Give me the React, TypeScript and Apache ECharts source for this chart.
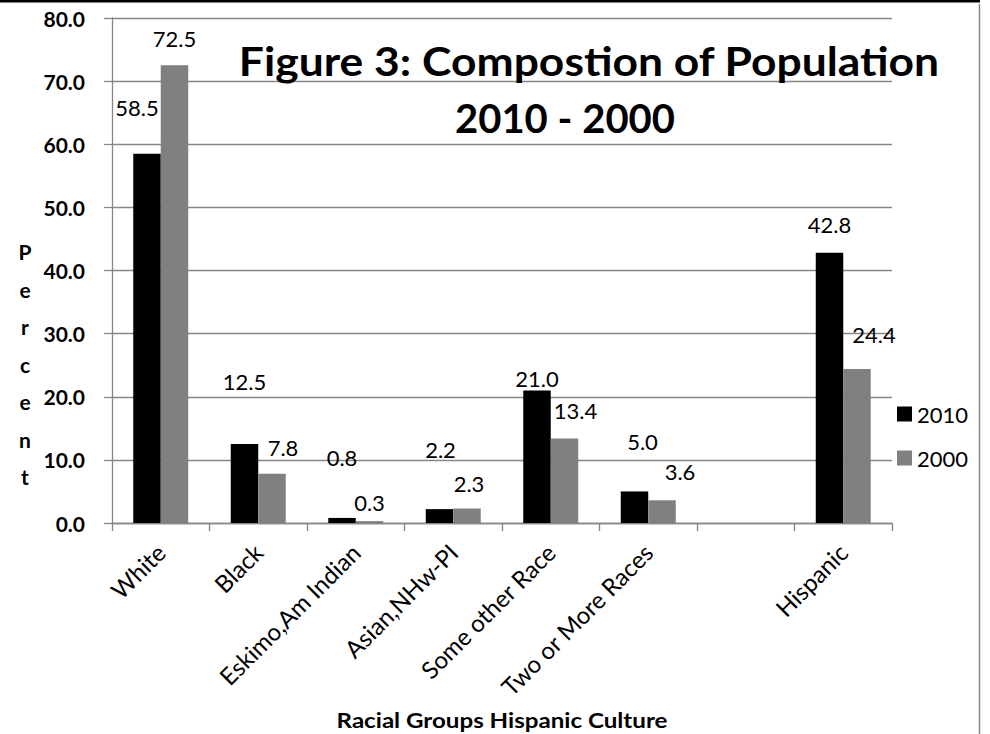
import React, { useEffect, useRef } from "react";
import * as echarts from "echarts";

const categories = [
  "White",
  "Black",
  "Eskimo,Am Indian",
  "Asian,NHw-PI",
  "Some other Race",
  "Two or More Races",
  "",
  "Hispanic",
];
const values2010: (number | null)[] = [58.5, 12.5, 0.8, 2.2, 21.0, 5.0, null, 42.8];
const values2000: (number | null)[] = [72.5, 7.8, 0.3, 2.3, 13.4, 3.6, null, 24.4];
const yTicks = { min: 0, max: 80, interval: 10 };
const titleLine1 = "Figure 3: Compostion of Population";
const titleLine2 = "2010 - 2000";
const yName = "Percent";
const xName = "Racial Groups Hispanic Culture";

// label nudges (dx, dy) mimicking the hand-placed labels of the original
const nudge2010: number[][] = [[-10, -34], [0, -51], [0, -48], [1, -48], [0, 0], [8, -38], [0, 0], [0, -16]];
const nudge2000: number[][] = [[0, -15], [11, -14], [0, -7], [2, -13], [11, -16], [18, -17], [0, 0], [17, -22]];

const FONT = "Lato, 'Open Sans', sans-serif";

function buildData(vals: (number | null)[], nudges: number[][]) {
  return vals.map((v, i) =>
    v == null ? "-" : { value: v, label: { offset: nudges[i] } }
  );
}

export default function App() {
  const ref = useRef<HTMLDivElement>(null);
  useEffect(() => {
    if (!ref.current) return;
    const chart = echarts.init(ref.current, null, { renderer: "svg" });
    const labelCommon = {
      show: true,
      position: "top",
      distance: 0,
      color: "#000",
      fontFamily: FONT,
      fontSize: 22,
      lineHeight: 24,
      formatter: (p: any) => Number(p.value).toFixed(1),
    };
    chart.setOption({
      animation: false,
      backgroundColor: "#fff",
      textStyle: { fontFamily: FONT },
      grid: {
        left: 112,
        right: 98,
        top: 18,
        bottom: 211,
        containLabel: false,
        outerBoundsMode: "none",
      },
      legend: {
        orient: "vertical",
        left: 892,
        top: 398,
        itemWidth: 15,
        itemHeight: 15,
        itemGap: 22,
        icon: "rect",
        textStyle: { color: "#000", fontSize: 22, fontFamily: FONT },
        data: ["2010", "2000"],
      },
      xAxis: {
        type: "category",
        data: categories,
        axisLine: { lineStyle: { color: "#868686", width: 1.3 } },
        axisTick: { show: true, length: 8, lineStyle: { color: "#868686", width: 1.3 } },
        axisLabel: {
          rotate: 45,
          interval: 0,
          margin: 25,
          color: "#000",
          fontSize: 24,
          fontFamily: FONT,
        },
      },
      yAxis: {
        type: "value",
        min: yTicks.min,
        max: yTicks.max,
        interval: yTicks.interval,
        axisLine: { show: true, lineStyle: { color: "#868686", width: 1.3 } },
        axisTick: { show: true, length: 8, lineStyle: { color: "#868686", width: 1.3 } },
        splitLine: { show: true, lineStyle: { color: "#868686", width: 1.3 } },
        axisLabel: {
          margin: 27,
          color: "#000",
          fontSize: 21,
          fontWeight: "bold",
          fontFamily: FONT,
          formatter: (v: number) => v.toFixed(1),
        },
      },
      series: [
        {
          name: "2010",
          type: "bar",
          data: buildData(values2010, nudge2010),
          itemStyle: { color: "#000000" },
          barGap: "0%",
          barCategoryGap: "43.6%",
          label: labelCommon,
        },
        {
          name: "2000",
          type: "bar",
          data: buildData(values2000, nudge2000),
          itemStyle: { color: "#808080" },
          barGap: "0%",
          barCategoryGap: "43.6%",
          label: labelCommon,
        },
      ],
      graphic: [
        {
          type: "line",
          shape: { x1: 0, y1: 1.2, x2: 980, y2: 1.2 },
          style: { stroke: "#000", lineWidth: 2.5 },
          z: 100,
        },
        {
          type: "line",
          shape: { x1: 979.5, y1: 4, x2: 979.5, y2: 734 },
          style: { stroke: "#868686", lineWidth: 1.5 },
          z: 100,
        },
        {
          type: "text",
          x: 589,
          y: 60,
          scaleX: 1.11,
          style: {
            text: titleLine1,
            fill: "#000",
            font: `bold 40px ${FONT}`,
            textAlign: "center",
            textVerticalAlign: "middle",
          },
          z: 100,
        },
        {
          type: "text",
          x: 565,
          y: 118,
          style: {
            text: titleLine2,
            fill: "#000",
            font: `bold 40px ${FONT}`,
            textAlign: "center",
            textVerticalAlign: "middle",
          },
          z: 100,
        },
        {
          type: "text",
          x: 25,
          y: 364,
          style: {
            text: yName.split("").join("\n"),
            fill: "#000",
            font: `bold 21px ${FONT}`,
            lineHeight: 37.5,
            textAlign: "center",
            textVerticalAlign: "middle",
          },
          z: 100,
        },
        {
          type: "text",
          x: 502,
          y: 720,
          scaleX: 1.15,
          style: {
            text: xName,
            fill: "#000",
            font: `bold 21px ${FONT}`,
            textAlign: "center",
            textVerticalAlign: "middle",
          },
          z: 100,
        },
      ],
    });
    return () => chart.dispose();
  }, []);
  return (
    <div
      ref={ref}
      style={{ position: "fixed", left: 0, top: 0, width: 990, height: 734 }}
    />
  );
}
